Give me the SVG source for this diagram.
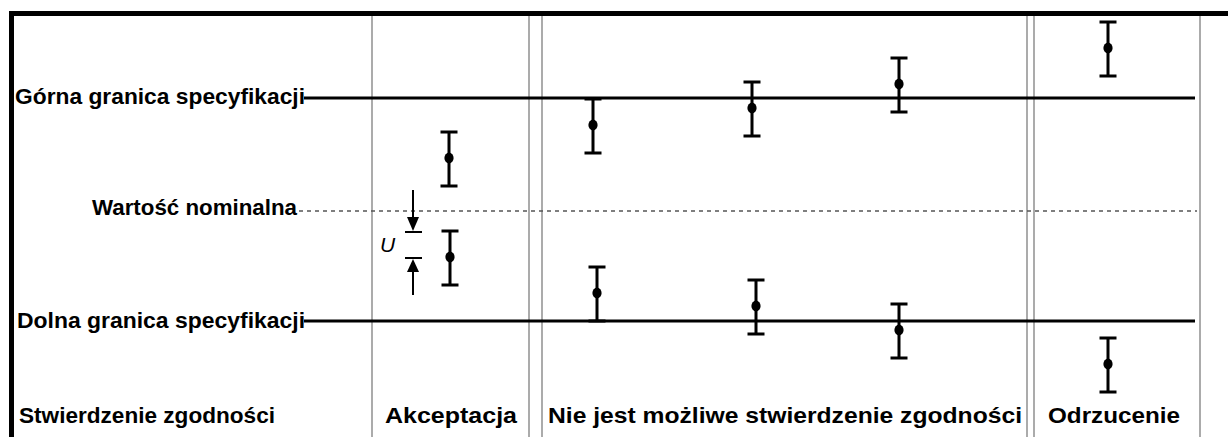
<svg xmlns="http://www.w3.org/2000/svg" width="1228" height="437" viewBox="0 0 1228 437">
<style>
.frame{stroke:#000;stroke-width:5;fill:none}
.col{stroke:#ababab;stroke-width:2;fill:none}
.spec{stroke:#000;stroke-width:3;fill:none}
.nom{stroke:#555;stroke-width:1.4;stroke-dasharray:4 4;fill:none}
.bar{stroke:#000;stroke-width:3;fill:none}
.dot{fill:#000}
.lbl{font-family:"Liberation Sans",Arial,sans-serif;font-size:22px;font-weight:bold;fill:#000}
.u{font-family:"Liberation Sans",Arial,sans-serif;font-size:21px;font-style:italic;fill:#000}
.arr{stroke:#000;stroke-width:2;fill:none}
</style>
<defs>
<g id="eb">
<path class="bar" d="M0,0 V54 M-8.5,0 H8.5 M-8.5,54 H8.5"/>
<ellipse class="dot" cx="0" cy="26" rx="4.6" ry="5.4"/>
</g>
</defs>
<rect width="1228" height="437" fill="#fff"/>
<g id="frame">
<path class="frame" d="M11.5,437 V13.5 H1228"/>
</g>
<g id="columns">
<path class="col" d="M372,16 V437 M529,16 V437 M542,16 V437 M1027,16 V437 M1034,16 V437 M1200,16 V437"/>
</g>
<g id="connectors">
<path class="spec" d="M304,98 H1195"/>
<path class="spec" d="M304,321 H1195"/>
<path class="nom" d="M299,211 H1197"/>
</g>
<g id="labels">
<text class="lbl" x="15" y="104" textLength="290" lengthAdjust="spacingAndGlyphs">Górna granica specyfikacji</text>
<text class="lbl" x="92" y="215" textLength="205" lengthAdjust="spacingAndGlyphs">Wartość nominalna</text>
<text class="lbl" x="17" y="328" textLength="288" lengthAdjust="spacingAndGlyphs">Dolna granica specyfikacji</text>
<text class="lbl" x="19" y="423" textLength="256" lengthAdjust="spacingAndGlyphs">Stwierdzenie zgodności</text>
<text class="lbl" x="385" y="423" textLength="132" lengthAdjust="spacingAndGlyphs">Akceptacja</text>
<text class="lbl" x="548" y="423" textLength="474" lengthAdjust="spacingAndGlyphs">Nie jest możliwe stwierdzenie zgodności</text>
<text class="lbl" x="1048" y="423" textLength="132" lengthAdjust="spacingAndGlyphs">Odrzucenie</text>
</g>
<g id="uncertainty">
<path class="arr" d="M413,190 V219 M405,232 H422 M405,258 H422 M413,271 V295"/>
<polygon points="407,217 419,217 413,231" fill="#000"/>
<polygon points="407,272 419,272 413,259" fill="#000"/>
<text class="u" x="380" y="252">U</text>
</g>
<g id="bar-acc-1"><use href="#eb" x="449" y="132"/></g>
<g id="bar-acc-2"><use href="#eb" x="450" y="231"/></g>
<g id="bar-nie-1"><use href="#eb" x="593" y="99"/></g>
<g id="bar-nie-2"><use href="#eb" x="752" y="82"/></g>
<g id="bar-nie-3"><use href="#eb" x="899" y="58"/></g>
<g id="bar-nie-4"><use href="#eb" x="597" y="267"/></g>
<g id="bar-nie-5"><use href="#eb" x="756" y="280"/></g>
<g id="bar-nie-6"><use href="#eb" x="899" y="304"/></g>
<g id="bar-odr-1"><use href="#eb" x="1108" y="22"/></g>
<g id="bar-odr-2"><use href="#eb" x="1108" y="338"/></g>
</svg>
